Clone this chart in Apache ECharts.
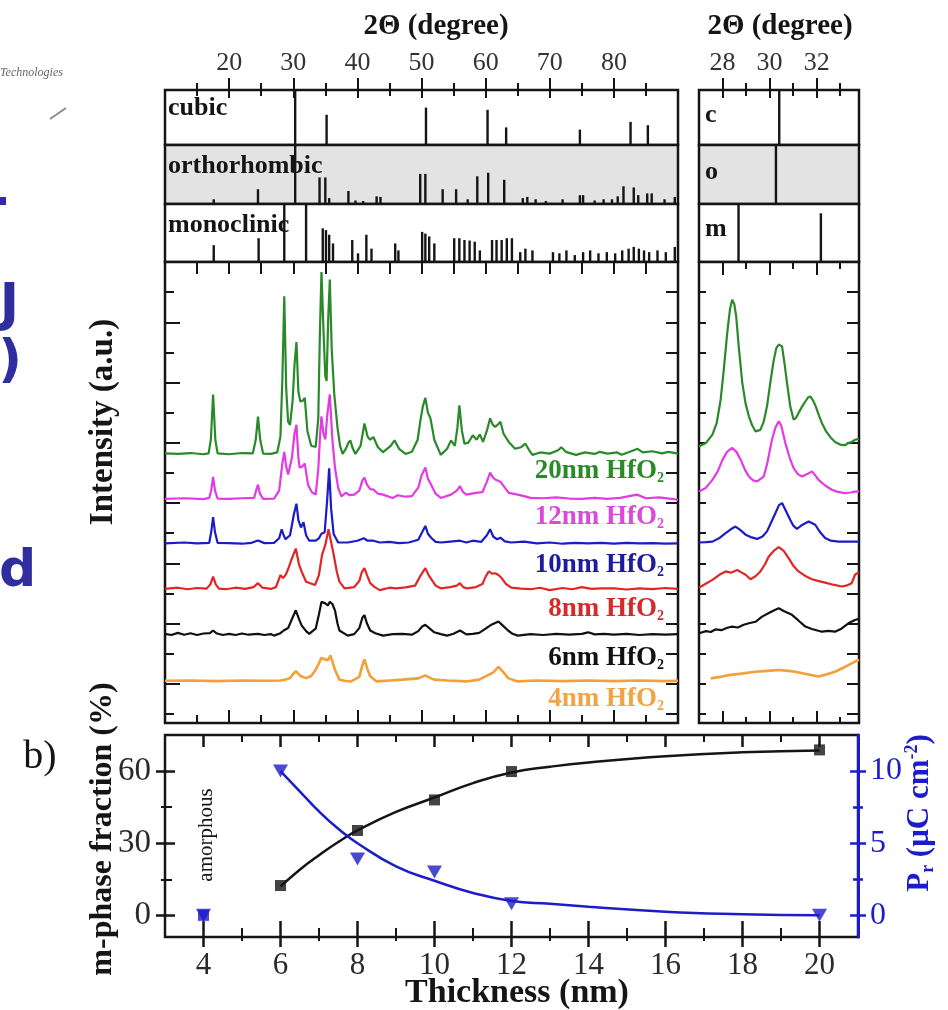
<!DOCTYPE html>
<html><head><meta charset="utf-8">
<script src="https://cdn.jsdelivr.net/npm/echarts@6/dist/echarts.min.js"></script>
<style>html,body{margin:0;padding:0;background:#fff}#c{width:948px;height:1010px}</style>
</head><body><div id="c"></div>
<script>
// ================= DATA =================
// tick values
const degTickLabels = [20,30,40,50,60,70,80];
const degMajorTicks = [20,30,40,50,60,70,80];
const degMinorTicks = [15,25,35,45,55,65,75,85];
const zoomTickLabels = [28,30,32];
const zoomMajorTicks = [28,30,32];
const zoomMinorTicks = [29,31,33];
const intensityMajorTicks = [13,33,53,73,93,113,133];
const intensityMinorTicks = [3,23,43,63,83,103,123,143];
const thickLabels = [4,6,8,10,12,14,16,18,20];
const thickMinor = [5,7,9,11,13,15,17,19];
const fracLabels = [0,30,60];
const fracMinor = [15,45];
const prLabels = [0,5,10];
const prMinor = [2.5,7.5];

// reference patterns [2theta, relative height %]
const cubicRef = [[30.3,100],[35.2,55],[50.7,68],[60.3,64],[63.2,32],[74.7,28],[82.6,42],[85.3,36]];
const orthoRef = [[17.6,8],[24.5,25],[30.3,100],[34.1,45],[35.0,45],[35.6,10],[38.6,22],[39.7,6],[40.9,5],[43.0,13],[43.6,12],
  [49.8,51],[50.6,51],[53.3,25],[55.4,25],[57.2,8],[58.7,47],[60.4,53],[62.9,41],[65.8,10],[66.5,12],[67.8,8],[69.4,5],
  [72.0,8],[74.7,15],[75.2,15],[77.0,6],[78.4,8],[79.7,8],[80.6,13],[81.5,30],[83.1,28],[83.8,15],[85.2,18],[85.9,18],[87.9,8],[89.5,12]];
const monoRef = [[17.6,29],[24.6,41],[28.6,100],[32.0,100],[34.6,58],[35.1,55],[35.6,47],[36.2,32],[39.2,38],[40.1,15],[41.4,47],
  [42.2,23],[45.9,32],[46.4,20],[50.1,52],[50.6,49],[51.2,44],[52.0,32],[55.1,41],[55.9,41],[56.7,38],[57.5,37],[58.3,35],
  [59.1,20],[61.0,38],[61.7,38],[62.5,38],[63.3,41],[64.1,41],[65.4,17],[66.2,23],[67.3,20],[70.5,17],[71.5,15],[72.6,20],
  [73.9,12],[75.2,17],[76.3,20],[77.6,15],[78.9,17],[80.2,15],[81.3,20],[82.3,23],[83.1,26],[83.9,23],[84.7,20],[85.5,17],
  [86.8,20],[88.1,17],[89.5,26]];
const cubicRefZoom = [[30.41,100]];
const orthoRefZoom = [[30.27,100]];
const monoRefZoom = [[28.68,100],[32.18,84]];

// XRD spectra: [2theta, intensity above own baseline (a.u.)]
const baselines = [89, 74.1, 59.3, 44.1, 29.0, 13.8];
const sampleNames = ['20nm', '12nm', '10nm', '8nm', '6nm', '4nm'];
const green20 = [[10,0.5],[12,0.3],[14,0.6],[16,0.2],[16.8,0.5],[17.15,5],[17.5,20],[17.85,5],[18.2,0.5],[20,0.2],[22,0.6],[23.7,0.5],[24.15,5],[24.5,12.7],[24.85,5],[25.3,0.4],[26.5,0.3],[27.5,0.8],[28.0,6],[28.3,25],[28.6,52.6],[28.9,22],[29.2,11],[29.5,9.9],[29.9,18],[30.2,30],[30.5,37.4],[30.8,21],[31.1,17.7],[31.5,18],[31.8,18.9],[32.2,8],[32.8,3],[33.5,2.6],[33.9,12],[34.15,40],[34.4,60.7],[34.7,42],[35.0,26],[35.2,24.5],[35.45,45],[35.7,58.2],[36.0,35],[36.4,20],[36.9,9],[37.3,3],[37.7,0.3],[38.2,2],[38.6,4],[38.9,4.8],[39.3,2],[39.7,0.3],[40.5,3],[41.1,10.4],[41.6,6],[42.0,5],[42.5,5.9],[43.2,2.5],[44.0,0.9],[45.2,3],[45.8,4.8],[46.5,2],[47.5,0.3],[48.5,1],[49.4,5],[49.8,11],[50.2,16],[50.6,18.9],[51.0,14],[51.4,12.1],[52.0,5],[53.0,0],[54.0,2],[54.6,4.8],[55.2,3],[55.6,9],[55.9,16.4],[56.3,8],[56.7,3.7],[57.3,4],[58.0,6.5],[58.6,5],[59.1,6.8],[59.6,4.3],[60.2,8],[60.7,12.1],[61.1,10],[61.5,9.3],[61.9,10],[62.3,11],[62.8,7],[63.6,4.3],[64.6,2],[65.5,2.5],[66.2,3.7],[66.8,1.5],[67.3,0],[68.5,0.8],[70,0.4],[71.3,1.5],[71.8,2.5],[72.5,1],[74.1,0],[75.5,0.8],[77,0.3],[77.8,1],[79,0.4],[80.5,0.8],[81.2,0],[82.5,1],[83.7,2],[84.5,0.8],[86,1.2],[87.5,0.5],[88.5,1],[90,0.4]];
const magenta12 = [[10,0.3],[13,0.5],[16,0.2],[16.9,0.6],[17.2,3],[17.5,7.6],[17.8,3],[18.2,0.4],[20,0.3],[22,0.5],[23.9,0.6],[24.2,3],[24.5,5],[24.8,2],[25.3,0.3],[27,0.4],[27.8,3],[28.3,12],[28.6,15.9],[28.9,11],[29.2,8.4],[29.8,14],[30.2,22],[30.5,24.9],[30.8,14],[31.0,10.7],[31.4,11],[31.8,12],[32.3,5],[32.9,2.5],[33.5,1.7],[33.9,10],[34.2,22],[34.4,27.7],[34.7,22],[35.0,20],[35.3,28],[35.7,35],[36.1,20],[36.5,10.7],[37.0,4],[37.5,1.1],[38.2,2.3],[38.8,1.5],[39.5,1.7],[40.3,3],[40.8,6.5],[41.1,7.3],[41.5,5],[42.0,3.5],[42.5,3.4],[43.2,2],[44.0,1.7],[45.5,0.6],[46.3,1.5],[47.5,1],[48.5,1.2],[49.5,4],[50.0,8],[50.6,10.7],[51.0,7],[51.5,5],[52.2,2],[53,0.6],[54.6,1.7],[55.5,3],[56,4.5],[56.5,2.5],[57,1.7],[58.5,2.3],[59.5,2.5],[60.2,6],[60.7,9],[61.1,7.5],[61.5,6.7],[62.3,6],[63,4],[63.6,2.3],[65,1.7],[66,1.2],[67,0.6],[69,0.5],[71,0.8],[73,0.4],[75,0.3],[77,0.6],[79,0.3],[81,0.6],[83.6,1.7],[85,0.5],[87,0.8],[89,0.3],[90,0]];
const blue10 = [[10,0.3],[13,0.6],[15,0.3],[16.9,0.5],[17.2,4],[17.5,9],[17.8,4],[18.2,0.5],[20,0.4],[22,0.2],[23.5,0.5],[24.5,1.3],[25.5,0.4],[27,0.5],[27.8,2],[28.2,5],[28.5,3],[28.8,1.7],[29.5,3],[30.1,10],[30.5,13.5],[30.8,8],[31.2,5.6],[31.6,7.3],[32.0,3],[32.5,1.2],[33.5,1.2],[34.0,2],[34.4,3.5],[34.9,4],[35.3,15],[35.6,25.2],[35.9,12],[36.3,3.4],[37,0.6],[38.5,0.6],[40,1.2],[41,2],[41.6,1.2],[42.5,1.2],[43.5,0.6],[45,0.8],[46.5,0.4],[48,0.6],[49.5,1.5],[50.1,4],[50.6,6.1],[51.0,3.5],[51.5,2.2],[52.2,0.8],[53,0.6],[54.5,0.9],[56,1.2],[57,0.6],[58,1.2],[59.3,0.8],[60.2,3],[60.7,5],[61.2,2.5],[61.8,1.7],[62.3,2.2],[63,1],[64,0.6],[66,0.9],[68,0.3],[70,0.6],[72,0.2],[74,0.5],[76,0.3],[78,0.5],[80,0.2],[82,0.5],[84,0.3],[86,0.4],[88,0.2],[90,0.3]];
const red8 = [[10,0.4],[12,0.8],[13.5,0.3],[15,0.7],[16.5,0.5],[17.1,2],[17.5,4.5],[17.9,2],[18.4,0.5],[19.5,0.3],[21,0.8],[22.5,0.4],[23.8,1],[24.5,2.3],[25.2,0.8],[26.5,0.4],[27.3,1],[28.0,5],[28.4,4],[28.8,5],[29.2,7],[29.7,10],[30.4,13.8],[30.9,8.5],[31.3,6.2],[32.0,2.8],[33.4,1.7],[34.0,5],[34.5,11.8],[35.0,15],[35.5,20.2],[35.9,16],[36.3,11.8],[36.8,6],[37.2,2.8],[38.0,0.6],[39.5,1],[40.3,3],[40.7,6],[41.1,7.3],[41.5,5],[42.0,2.3],[42.7,1],[43.5,0],[45,0.8],[46,0.6],[47.5,0.9],[49.0,1.5],[49.9,5],[50.6,7.3],[51.1,5],[51.6,3.4],[52.2,1.5],[53,0.6],[54.5,1],[55.5,1.5],[56,2.3],[56.5,1],[57,0.6],[58.5,1],[59.5,2],[60.0,4.5],[60.5,6.2],[61.0,5.5],[61.5,5.6],[62.0,5],[62.5,4],[63.2,2],[64,0.8],[65.5,0.5],[67,0.3],[68.5,0.8],[70,0],[72,0.7],[73.5,0.3],[75,1],[76.5,0.4],[78,0.6],[80,0.6],[82,0.2],[84,0.6],[86,0.3],[88,0.7],[90,0.4]];
const black6 = [[10,0.6],[11,0.2],[12,0.9],[13,0.3],[14,0.8],[15,0.2],[16,0.7],[17.0,0.8],[17.5,1.7],[18.0,0.8],[19,0.2],[20,0.6],[21,0.2],[22,0.7],[23,0.3],[24.5,0.6],[25.5,0.2],[26.5,0.5],[27,0],[28,0.8],[28.5,1.7],[29.2,2.5],[29.8,5.5],[30.4,8.4],[30.9,5.5],[31.3,3.4],[32.0,1.5],[32.5,0.6],[33.0,1.5],[33.5,2.3],[34.0,7],[34.4,11.2],[35.0,10.7],[35.4,10],[35.7,11.2],[36.1,10.5],[36.5,8.4],[36.9,4],[37.2,1.7],[38.5,0],[39.5,0.5],[40.3,2.5],[40.8,6],[41.1,6.8],[41.5,4],[42,1.7],[42.8,0.8],[44,0],[45.5,0.5],[47,0.6],[48.5,0.3],[49.5,1.5],[50.1,3],[50.6,3.6],[51.2,2.5],[52,1.1],[53,0.5],[54,0],[55,0.6],[56,1.7],[57,0.4],[58,0.6],[59,0.9],[60,2.3],[60.8,3.5],[61.5,4.2],[62,4.7],[62.6,3.5],[63.5,1.7],[64.2,0.6],[65,0],[67,0.5],[69,0.2],[71,0.6],[73,0.3],[75,0.6],[76,1.1],[77,0.4],[78.5,0.6],[80,0.3],[82,0.6],[84,0.2],[86,0.5],[88,0.3],[90,0.5]];
const orange4 = [[10,0.2],[14,0.3],[18,0.1],[22,0.3],[26,0.2],[28,0.3],[28.8,0.6],[29.5,1.1],[30.0,2.5],[30.4,3.4],[30.8,2.5],[31.2,1.7],[32.0,1.1],[32.8,1.8],[33.5,3.9],[34.0,6],[34.4,7.8],[35.0,7.3],[35.4,7],[35.8,8.6],[36.2,6],[36.5,3.9],[37.2,0.6],[38,0.2],[39,0],[40.3,1.5],[40.8,5.5],[41.1,7.3],[41.5,4.5],[42,1.7],[43,0],[45,0.3],[47,0.6],[49.5,1],[50.6,2],[51.5,1],[52,0.6],[54,0.3],[57,0],[59,0.6],[60,1.7],[61.2,3],[62,4.8],[62.8,3],[63.5,1.1],[65,0],[68,0.3],[72,0.1],[76,0.3],[80,0.1],[84,0.3],[88,0.1],[90,0.2]];

// zoomed 27–34 deg window
const green20z = [[27.0,2.8],[27.29,3.9],[27.57,6.7],[27.75,10.5],[27.92,18.3],[28.05,28],[28.2,40.5],[28.32,48.5],[28.41,51.5],[28.5,50],[28.58,46],[28.7,35],[28.84,23.9],[28.98,17],[29.12,12.8],[29.26,9.8],[29.4,7.8],[29.61,8.3],[29.75,11],[29.89,16.1],[30.05,25],[30.18,31.6],[30.29,35.5],[30.39,36.6],[30.53,36],[30.64,30],[30.74,23.9],[30.88,16],[31.02,11.7],[31.12,12.2],[31.23,13.9],[31.38,16],[31.52,17.7],[31.63,19],[31.73,19.4],[31.85,18],[31.96,16.1],[32.1,13],[32.22,10.6],[32.4,7.8],[32.61,5.6],[32.8,4.2],[33.0,3.4],[33.2,3.2],[33.35,3.9],[33.5,4.3],[33.63,5],[33.8,5.3]];
const magenta12z = [[27.0,2.7],[27.3,4],[27.57,6.6],[27.8,9.5],[28.0,13.3],[28.2,16],[28.41,17.2],[28.6,15.8],[28.77,13.3],[28.95,10],[29.12,7.7],[29.3,6.4],[29.47,6.1],[29.75,7.7],[29.9,12],[30.1,19.9],[30.25,24],[30.39,26],[30.5,24.5],[30.67,18.8],[30.85,14],[31.02,10.5],[31.2,8.5],[31.38,7.7],[31.6,8.5],[31.8,9.4],[31.95,8],[32.08,6.6],[32.35,4.8],[32.64,3.3],[32.9,2.6],[33.2,2.2],[33.45,2.4],[33.63,2.7],[33.8,2.8]];
const blue10z = [[27.0,0.6],[27.3,0.7],[27.57,0.9],[27.85,2],[28.13,3.7],[28.35,5],[28.55,5.9],[28.75,4.8],[28.98,3.2],[29.2,2.4],[29.47,1.8],[29.7,2.6],[29.89,4.3],[30.05,7],[30.25,10.4],[30.4,13],[30.53,13.7],[30.7,11],[30.88,8.1],[31.0,6.3],[31.16,5.1],[31.4,6.5],[31.66,7.6],[31.94,6.5],[32.15,4],[32.36,2.1],[32.6,1.2],[32.93,0.9],[33.3,0.9],[33.56,0.9],[33.8,0.9]];
const red8z = [[27.0,0.8],[27.3,2.2],[27.57,3.4],[27.85,5],[28.13,6.2],[28.35,5.8],[28.63,6.7],[28.8,5.9],[28.98,5.1],[29.19,3.6],[29.4,4.6],[29.61,6.2],[29.8,8.5],[29.96,11.1],[30.2,13.2],[30.39,14.3],[30.6,13],[30.81,10.6],[31.0,8.2],[31.23,6.2],[31.5,4.8],[31.8,3.6],[32.1,3],[32.36,2.5],[32.7,1.8],[33.07,1.2],[33.3,1.6],[33.49,2.3],[33.63,5.1],[33.8,6]];
const black6z = [[27.0,0.8],[27.3,1.5],[27.5,1.2],[27.71,2.1],[27.95,1.8],[28.2,2.6],[28.41,3],[28.65,2.7],[28.9,3.6],[29.12,4.1],[29.4,4.6],[29.68,6.3],[29.95,7.4],[30.2,8.4],[30.39,9.1],[30.6,8.2],[30.95,6.9],[31.2,5.2],[31.52,3],[31.8,2.2],[32.22,1.3],[32.5,1.6],[32.78,1.3],[33.05,2.3],[33.35,4.1],[33.63,5.2],[33.8,5.6]];
const orange4z = [[27.5,1.0],[27.9,1.5],[28.27,2.1],[28.8,2.6],[29.4,3.2],[29.9,3.5],[30.39,3.8],[30.8,3.5],[31.09,3.2],[31.6,2.4],[32.08,1.6],[32.4,2.3],[32.78,3.2],[33.2,4.8],[33.63,6.6],[33.8,7.2]];

// panel b)
const thicknessNm = [4, 6, 8, 10, 12, 20];
const mPhasePct = [0, 12.4, 35.3, 48, 59.8, 68.8];
const prValues = [0, 10, 3.9, 3.0, 0.8, 0];
const mFitNm = [6, 6.5, 7, 7.5, 8, 9, 10, 11, 12, 13, 14, 16, 18, 20];
const mFitPct = [12, 19, 25, 30.5, 35.3, 43, 49, 55, 59.4, 61.8, 63.6, 66.2, 67.8, 68.6];
const prFitNm = [6, 6.5, 7, 7.5, 8, 9, 10, 11, 12, 13, 14, 16, 18, 20];
const prFitVal = [10, 8.6, 7.2, 6.0, 5.0, 3.4, 2.4, 1.55, 1.0, 0.8, 0.6, 0.25, 0.08, 0];

// ================= STYLE / LAYOUT =================
const SERIF = '"Liberation Serif","Times New Roman",serif';
const INK = '#151515';
const BLUE = '#1c1cc8';
const SLIDE = '#2e2e9e';
const sampleColors = ['#2a8a2a', '#e23be2', '#1c1cc4', '#e02626', '#111111', '#f2a03a'];
const labelColors = ['#2a8a2a', '#d94ad9', '#1c1c9c', '#d42a2a', '#111111', '#f2a444'];
const labelCenters = [471, 517, 565, 609, 658, 699];

const gridDefs = [
  {left:165, top:90,  width:513, height:55},
  {left:165, top:145, width:513, height:59, backgroundColor:'#e3e3e3'},
  {left:165, top:204, width:513, height:58},
  {left:165, top:262, width:513, height:461},
  {left:699, top:90,  width:160, height:55},
  {left:699, top:145, width:160, height:59, backgroundColor:'#e3e3e3'},
  {left:699, top:204, width:160, height:58},
  {left:699, top:262, width:160, height:461},
  {left:165, top:735, width:693, height:202}
].map(g => Object.assign({show:true, borderColor:INK, borderWidth:2.5, backgroundColor:'#fff', containLabel:false}, g));

const xAxes = [], yAxes = [];
const addX = o => (xAxes.push(o), xAxes.length - 1);
const addY = o => (yAxes.push(o), yAxes.length - 1);
function AX(grid, pos, min, max, ext) {
  return Object.assign({
    type:'value', gridIndex:grid, position:pos, min:min, max:max,
    axisLine:{show:false, onZero:false}, axisLabel:{show:false}, axisTick:{show:false},
    splitLine:{show:false}, minorTick:{show:false}, minorSplitLine:{show:false}
  }, ext || {});
}
function TK(grid, pos, min, max, vals, len, inside, color, w) {
  return AX(grid, pos, min, max, {axisTick:{show:true, customValues:vals, length:len, inside:inside,
    lineStyle:{color:color || INK, width:w || 2}}});
}
const lbl = (vals, size, margin, color) => ({show:true, customValues:vals, fontSize:size, margin:margin,
  fontFamily:SERIF, color:color || '#2a2a2a'});

// --- left XRD panel (10–90 deg)
const xL0 = addX(AX(0,'top',10,90,{axisLabel:lbl(degTickLabels,26,14,'#333'),
  axisTick:{show:true, customValues:degMajorTicks, length:12, inside:false, lineStyle:{color:INK,width:2}}}));
addX(TK(0,'top',10,90,degMinorTicks,7,false));
addX(TK(0,'top',10,90,degMajorTicks,8,true));
addX(TK(0,'top',10,90,degMinorTicks,6,true));
const xL1 = addX(AX(1,'bottom',10,90));
const xL2 = addX(AX(2,'bottom',10,90));
const xL3 = addX(TK(3,'bottom',10,90,degMajorTicks,13,true));
addX(TK(3,'bottom',10,90,degMinorTicks,8,true));
addX(TK(3,'top',10,90,degMajorTicks.concat(degMinorTicks),12,true));
// --- right zoom panel (27–33.8 deg)
const xR0 = addX(AX(4,'top',27,33.8,{axisLabel:lbl(zoomTickLabels,26,14,'#333'),
  axisTick:{show:true, customValues:zoomMajorTicks, length:12, inside:false, lineStyle:{color:INK,width:2}}}));
addX(TK(4,'top',27,33.8,zoomMinorTicks,7,false));
addX(TK(4,'top',27,33.8,zoomMajorTicks,8,true));
addX(TK(4,'top',27,33.8,zoomMinorTicks,6,true));
const xR1 = addX(AX(5,'bottom',27,33.8));
const xR2 = addX(AX(6,'bottom',27,33.8));
const xR3 = addX(TK(7,'bottom',27,33.8,zoomMajorTicks,12,true));
addX(TK(7,'bottom',27,33.8,zoomMinorTicks,6,true));
addX(TK(7,'top',27,33.8,zoomMajorTicks,13,true));
addX(TK(7,'top',27,33.8,zoomMinorTicks,7,true));
// --- panel b (3–21 nm)
const xB = addX(AX(8,'bottom',3,21,{axisLabel:lbl(thickLabels,31,13),
  axisTick:{show:true, customValues:thickLabels, length:10, inside:false, lineStyle:{color:INK,width:2.5}}}));
addX(TK(8,'bottom',3,21,thickMinor,4,false));
addX(TK(8,'bottom',3,21,thickLabels,16,true,INK,2.5));
addX(TK(8,'bottom',3,21,thickMinor,9,true));
addX(TK(8,'top',3,21,thickLabels,12,true,INK,2.5));
addX(TK(8,'top',3,21,thickMinor,7,true));

const allIntTicks = intensityMajorTicks.concat(intensityMinorTicks);
const yL0 = addY(AX(0,'left',0,100));
const yL1 = addY(AX(1,'left',0,100));
const yL2 = addY(AX(2,'left',0,100));
const yL3 = addY(TK(3,'left',0,153,intensityMajorTicks,15,true));
addY(TK(3,'left',0,153,intensityMinorTicks,9,true));
addY(TK(3,'right',0,153,allIntTicks,12,true));
const yR0 = addY(AX(4,'left',0,100));
const yR1 = addY(AX(5,'left',0,100));
const yR2 = addY(AX(6,'left',0,100));
const yR3 = addY(TK(7,'left',0,153,allIntTicks,7,true));
addY(TK(7,'right',0,153,allIntTicks,12,true));
const yB = addY(AX(8,'left',-9,75,{axisLabel:lbl(fracLabels,33,14),
  axisTick:{show:true, customValues:fracLabels, length:9, inside:false, lineStyle:{color:INK,width:2.5}}}));
addY(TK(8,'left',-9,75,fracMinor,4,false));
addY(TK(8,'left',-9,75,fracLabels,10,true,INK,2.5));
addY(TK(8,'left',-9,75,fracMinor,7,true));
const yPr = addY(AX(8,'right',-1.5,12.5,{
  axisLine:{show:true, onZero:false, lineStyle:{color:BLUE, width:3}},
  axisLabel:lbl(prLabels,32,12,BLUE),
  axisTick:{show:true, customValues:prLabels, length:8, inside:false, lineStyle:{color:BLUE,width:2.5}}}));
addY(TK(8,'right',-1.5,12.5,prMinor,5,false,BLUE,2.5));
addY(TK(8,'right',-1.5,12.5,prLabels,8,true,BLUE,2.5));
addY(TK(8,'right',-1.5,12.5,prMinor,5,true,BLUE,2.5));

// ================= SERIES =================
const series = [];
function sticks(data, xi, yi) {
  series.push({type:'bar', xAxisIndex:xi, yAxisIndex:yi, data:data, barWidth:2.4,
    itemStyle:{color:INK}, silent:true, animation:false});
}
sticks(cubicRef, xL0, yL0); sticks(orthoRef, xL1, yL1); sticks(monoRef, xL2, yL2);
sticks(cubicRefZoom, xR0, yR0); sticks(orthoRefZoom, xR1, yR1); sticks(monoRefZoom, xR2, yR2);

const wide = [green20, magenta12, blue10, red8, black6, orange4];
const zoomed = [green20z, magenta12z, blue10z, red8z, black6z, orange4z];
sampleNames.forEach((nm, i) => {
  const lift = d => d.map(p => [p[0], p[1] + baselines[i]]);
  const common = {type:'line', showSymbol:false, symbol:'none', animation:false, silent:true,
    lineStyle:{color:sampleColors[i], width:i === 5 ? 2.6 : 2.2}, z:3 + (5 - i)};
  series.push(Object.assign({name:nm + ' HfO2', xAxisIndex:xL3, yAxisIndex:yL3, data:lift(wide[i])}, common));
  series.push(Object.assign({name:nm + ' HfO2 zoom', xAxisIndex:xR3, yAxisIndex:yR3, data:lift(zoomed[i])}, common));
});

series.push({type:'line', xAxisIndex:xB, yAxisIndex:yB, smooth:0.5, showSymbol:false, animation:false,
  data:mFitNm.map((x, i) => [x, mFitPct[i]]), lineStyle:{color:INK, width:2.5}, z:3});
series.push({type:'line', xAxisIndex:xB, yAxisIndex:yPr, smooth:0.5, showSymbol:false, animation:false,
  data:prFitNm.map((x, i) => [x, prFitVal[i]]), lineStyle:{color:BLUE, width:2.5}, z:3});
series.push({type:'scatter', xAxisIndex:xB, yAxisIndex:yB, symbol:'rect', symbolSize:11, animation:false, z:4,
  data:thicknessNm.map((x, i) => ({value:[x, mPhasePct[i]], itemStyle:{color: mPhasePct[i] === 0 ? BLUE : INK}}))});
series.push({type:'scatter', xAxisIndex:xB, yAxisIndex:yPr, symbol:'triangle', symbolRotate:180, symbolSize:[15,13],
  animation:false, z:5, itemStyle:{color:BLUE}, data:thicknessNm.map((x, i) => [x, prValues[i]])});

// ================= TEXT =================
const T = (text, x, y, font, fill, ext) => Object.assign({type:'text', x:x, y:y, silent:true, z:10,
  style:{text:text, font:font, fill:fill || INK, align:'center', verticalAlign:'middle',
    textAlign:'center', textVerticalAlign:'middle'}}, ext || {});
const graphics = [
  {type:'text', x:0, y:73, silent:true, style:{text:'Technologies', font:'italic 12px ' + SERIF, fill:'#666', align:'left', verticalAlign:'middle'}},
  {type:'line', shape:{x1:50, y1:119, x2:66, y2:108}, style:{stroke:'#8a8a8a', lineWidth:2}, silent:true},
  {type:'rect', shape:{x:0, y:197, width:6, height:8}, style:{fill:SLIDE}, silent:true},
  {type:'text', x:19, y:306, silent:true, style:{text:'J', font:'bold 52px "DejaVu Sans",sans-serif', fill:SLIDE, align:'right', verticalAlign:'middle'}},
  {type:'text', x:22, y:362, silent:true, style:{text:')', font:'bold 52px "DejaVu Sans",sans-serif', fill:SLIDE, align:'right', verticalAlign:'middle'}},
  {type:'text', x:-1, y:572, silent:true, style:{text:'d', font:'bold 52px "DejaVu Sans",sans-serif', fill:SLIDE, align:'left', verticalAlign:'middle'}},
  T('2Θ (degree)', 436, 27, 'bold 29px ' + SERIF),
  T('2Θ (degree)', 780, 27, 'bold 29px ' + SERIF),
  T('Intensity (a.u.)', 103, 422, 'bold 33px ' + SERIF, INK, {rotation:Math.PI / 2}),
  T('m-phase fraction (%)', 103, 829, 'bold 32px ' + SERIF, INK, {rotation:Math.PI / 2}),
  T('amorphous', 206, 835, '21px ' + SERIF, INK, {rotation:Math.PI / 2}),
  T('b)', 40, 757, '40px ' + SERIF),
  T('Thickness (nm)', 517, 993, 'bold 34px ' + SERIF),
  {type:'text', x:920, y:813, rotation:Math.PI / 2, silent:true, z:10, style:{
    text:'{a|P}{s|r}{a| (μC cm}{p|-2}{a|)}', align:'center', verticalAlign:'middle',
    rich:{a:{fontFamily:SERIF, fontWeight:'bold', fontSize:31, fill:BLUE, lineHeight:34},
          s:{fontFamily:SERIF, fontWeight:'bold', fontSize:18, fill:BLUE, lineHeight:18, verticalAlign:'bottom'},
          p:{fontFamily:SERIF, fontWeight:'bold', fontSize:18, fill:BLUE, lineHeight:18, verticalAlign:'top'}}}},
  {type:'text', x:168, y:108, silent:true, z:1, style:{text:'cubic', font:'bold 26px ' + SERIF, fill:INK, align:'left', verticalAlign:'middle'}},
  {type:'text', x:168, y:166, silent:true, z:1, style:{text:'orthorhombic', font:'bold 26px ' + SERIF, fill:INK, align:'left', verticalAlign:'middle'}},
  {type:'text', x:168, y:225, silent:true, z:1, style:{text:'monoclinic', font:'bold 26px ' + SERIF, fill:INK, align:'left', verticalAlign:'middle'}},
  {type:'text', x:705, y:115, silent:true, z:1, style:{text:'c', font:'bold 26px ' + SERIF, fill:INK, align:'left', verticalAlign:'middle'}},
  {type:'text', x:705, y:172, silent:true, z:1, style:{text:'o', font:'bold 26px ' + SERIF, fill:INK, align:'left', verticalAlign:'middle'}},
  {type:'text', x:705, y:229, silent:true, z:1, style:{text:'m', font:'bold 26px ' + SERIF, fill:INK, align:'left', verticalAlign:'middle'}}
];
sampleNames.forEach((nm, i) => {
  graphics.push({type:'text', x:664, y:labelCenters[i], silent:true, z:10, style:{
    text:'{a|' + nm + ' HfO}{s|2}', align:'right', verticalAlign:'middle',
    rich:{a:{fontFamily:SERIF, fontWeight:'bold', fontSize:27, fill:labelColors[i], lineHeight:28},
          s:{fontFamily:SERIF, fontWeight:'bold', fontSize:14, fill:labelColors[i], lineHeight:12, verticalAlign:'bottom'}}}});
});

const chart = echarts.init(document.getElementById('c'), null, {renderer:'canvas'});
chart.setOption({
  animation:false,
  backgroundColor:'#ffffff',
  grid:gridDefs,
  xAxis:xAxes,
  yAxis:yAxes,
  series:series,
  graphic:graphics
});
</script>
</body></html>
